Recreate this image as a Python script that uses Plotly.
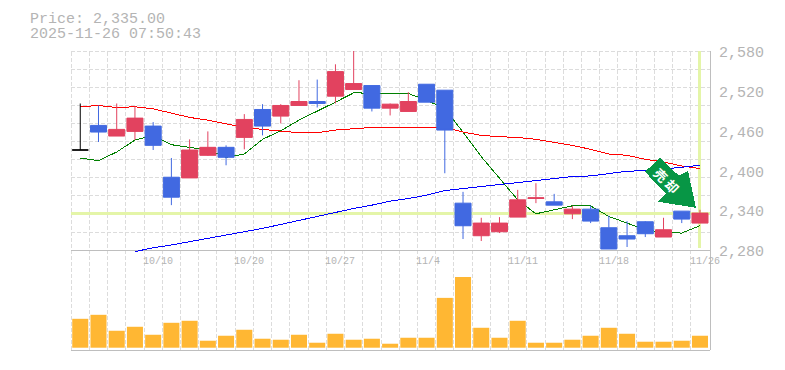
import plotly.graph_objects as go

price_text = "Price: 2,335.00"
time_text = "2025-11-26 07:50:43"
last_price = 2335
sell_label = "売 却"

dates = ["10/6","10/7","10/8","10/9","10/10","10/14","10/15","10/16","10/17","10/20","10/21","10/22",
         "10/23","10/24","10/27","10/28","10/29","10/30","10/31","11/4","11/5","11/6","11/7","11/10",
         "11/11","11/12","11/13","11/14","11/17","11/18","11/19","11/20","11/21","11/25","11/26"]
label_dates = ["10/10","10/20","10/27","11/4","11/11","11/18","11/26"]

opens  = [2431,2468,2452,2459,2467,2390,2389,2423,2435,2450,2492,2482,2498,2504,2512,2522,2528,2494,2489,2530,
          2521,2351,2302,2308,2330,2358,2353,2335,2342,2314,2302,2323,2300,2339,2321]
highs  = [2501,2498,2501,2497,2473,2419,2447,2459,2438,2485,2500,2500,2536,2537,2560,2581,2528,2501,2518,2530,
          2521,2368,2329,2330,2371,2381,2365,2347,2347,2332,2324,2324,2329,2339,2341]
lows   = [2431,2443,2452,2446,2431,2348,2389,2422,2408,2432,2453,2471,2498,2495,2501,2522,2489,2483,2489,2503,
          2396,2297,2294,2306,2330,2351,2348,2327,2321,2282,2285,2300,2300,2321,2321]
closes = [2431,2458,2462,2479,2438,2360,2431,2435,2420,2477,2467,2498,2504,2501,2549,2531,2494,2500,2504,2503,
          2461,2317,2321,2321,2356,2359,2348,2342,2324,2282,2297,2305,2311,2327,2336]

ma_short = [2419,2415,2428,2446,2453,2439,2435,2431,2420,2425,2447,2460,2476,2489,2503,2517,2516,2516,2516,2506,
            2493,2458,2421,2389,2356,2335,2341,2347,2347,2331,2321,2311,2307,2306,2317]
ma_mid = [2496,2498,2495,2496,2493,2486,2480,2476,2470,2465,2462,2459,2457,2457,2461,2463,2465,2465,2465,2465,
          2465,2458,2453,2451,2450,2447,2443,2438,2432,2425,2423,2417,2413,2407,2403]
ma_long = [None,None,None,2278,2284,2288,2293,2297,2302,2308,2313,2319,2325,2332,2338,2343,2348,2354,2358,2363,
           2370,2373,2376,2379,2382,2384,2387,2391,2392,2396,2399,2400,2402,2405,2408]
volumes = [29,33,17,21,13,25,27,7,12,18,9,8,13,5,14,8,9,4,10,10,50,71,20,10,27,5,5,8,12,20,14,6,6,7,12]

y_ticks = [2280,2340,2400,2460,2520,2580]
y_labels = ["2,280","2,340","2,400","2,460","2,520","2,580"]

RED, BLUE = "#E2425F", "#4169E1"
GRID, AXIS, TEXT = "#DCDCDC", "#BEBEBE", "#B4B4B4"
MARK = "#E4F5A8"
FONT = "Liberation Mono, monospace"
n = len(dates)
idx = list(range(-1, n - 1))
xr = [-1.508, 33.55]

fig = go.Figure()
fig.add_trace(go.Scatter(x=[], y=[], xaxis="x", yaxis="y"))
fig.add_trace(go.Bar(x=idx, y=volumes, xaxis="x2", yaxis="y2", marker=dict(color="#FFB733", line_width=0),
                     width=0.88))
for vals, col in ((ma_short, "#008000"), (ma_mid, "#FF0000"), (ma_long, "#0000FF")):
    fig.add_trace(go.Scatter(x=idx, y=vals, yaxis="y3", mode="lines", line=dict(color=col, width=1)))
fig.add_trace(go.Candlestick(x=idx[:1], open=opens[:1], high=highs[:1], low=lows[:1], close=closes[:1], yaxis="y4",
                             increasing=dict(line=dict(color="#000000", width=1), fillcolor="#000000"),
                             decreasing=dict(line=dict(color="#000000", width=1), fillcolor="#000000"),
                             whiskerwidth=0))
fig.add_trace(go.Candlestick(x=idx[1:], open=opens[1:], high=highs[1:], low=lows[1:], close=closes[1:], yaxis="y4",
                             increasing=dict(line=dict(color=RED, width=1), fillcolor=RED),
                             decreasing=dict(line=dict(color=BLUE, width=1), fillcolor=BLUE),
                             whiskerwidth=0))

shapes = []
for i in idx:
    shapes.append(dict(type="line", xref="x", yref="paper", x0=i - 0.5, x1=i - 0.5, y0=0, y1=1, layer="below",
                       line=dict(color=GRID, width=1, dash="4px,2px")))
for k in range(1, 12):
    v = 2280 + 300 * k / 11
    shapes.append(dict(type="line", xref="paper", yref="y", x0=0, x1=1, y0=v, y1=v, layer="below",
                       line=dict(color=GRID, width=1, dash="4px,2px")))
shapes.append(dict(type="line", xref="paper", yref="y", x0=0, x1=1, y0=last_price, y1=last_price, layer="below",
                   line=dict(color=MARK, width=3)))
shapes.append(dict(type="line", xref="x", yref="y", x0=idx[-1], x1=idx[-1], y0=2283, y1=2580, layer="below",
                   line=dict(color=MARK, width=3)))
shapes.append(dict(type="line", xref="paper", yref="paper", x0=1, x1=1, y0=0, y1=1, layer="above",
                   line=dict(color=AXIS, width=1)))
# sell arrow, pixels relative to the last candle's close
shapes.append(dict(type="path", xref="x", yref="y", xsizemode="pixel", ysizemode="pixel",
                   xanchor=idx[-1], yanchor=last_price, layer="above", line_width=0, fillcolor="#079645",
                   path="M -40 56 L -21 38 L -12 43 L -4 6 L -42 12 L -34 20 L -55 42 Z"))

annotations = [
    dict(text=price_text, xref="paper", yref="paper", x=(27 - 70.5) / 639.5, y=(350.5 - 19) / 300, xanchor="left",
         yanchor="middle", showarrow=False, font=dict(family=FONT, size=15, color=TEXT)),
    dict(text=time_text, xref="paper", yref="paper", x=(27 - 70.5) / 639.5, y=(350.5 - 34) / 300, xanchor="left",
         yanchor="middle", showarrow=False, font=dict(family=FONT, size=15, color=TEXT)),
    dict(text=sell_label, xref="x", yref="y", x=idx[-1], y=last_price, xshift=-33.5, yshift=33, textangle=45,
         showarrow=False, font=dict(family="Noto Sans CJK JP", size=13, color="#FFFFFF", weight="bold")),
]
for d in label_dates:
    annotations.append(dict(text=d, xref="x", yref="y", x=idx[dates.index(d)] - 0.5, xshift=-3,
                            y=2280, yshift=-11.5, xanchor="left", yanchor="middle", showarrow=False,
                            font=dict(family=FONT, size=10, color=TEXT)))
for v, s in zip(y_ticks, y_labels):
    annotations.append(dict(text=s, xref="x", yref="y", x=xr[1], xshift=7, y=v, yshift=-2.5,
                            xanchor="left", yanchor="middle", showarrow=False,
                            font=dict(family=FONT, size=15, color=TEXT)))

fig.update_layout(
    width=785, height=370, autosize=False,
    margin=dict(l=70.5, r=75, t=50.5, b=19.5, pad=0),
    paper_bgcolor="#FFFFFF", plot_bgcolor="rgba(0,0,0,0)", showlegend=False, boxgap=0.12, boxgroupgap=0,
    xaxis=dict(domain=[0, 1], range=xr, anchor="y", showgrid=False, zeroline=False, showline=True, linecolor=AXIS,
               linewidth=1, rangeslider=dict(visible=False), showticklabels=False, ticks=""),
    xaxis2=dict(domain=[0, 1], range=xr, anchor="y2", showgrid=False, zeroline=False, showline=True, linecolor=AXIS,
                linewidth=1, showticklabels=False, ticks=""),
    yaxis=dict(domain=[1 / 3, 1], range=[2280, 2580], anchor="x", side="right", showgrid=False, zeroline=False,
               showline=False, showticklabels=False, ticks=""),
    yaxis2=dict(domain=[0, 1 / 3], range=[-2.3, 97.7], anchor="x2", visible=False),
    yaxis3=dict(domain=[0.32, 1], range=[2274, 2580], anchor="x", visible=False),
    yaxis4=dict(domain=[1 / 3, 1], range=[2280, 2580], anchor="x", visible=False),
    shapes=shapes, annotations=annotations,
)

post = """
document.body.style.margin='0';
document.querySelectorAll('.scatterlayer path, .shapelayer path, .crisp').forEach(function(p){p.style.shapeRendering='crispEdges';});
"""
fig.write_html("out.html", post_script=post, config=dict(displayModeBar=False))
